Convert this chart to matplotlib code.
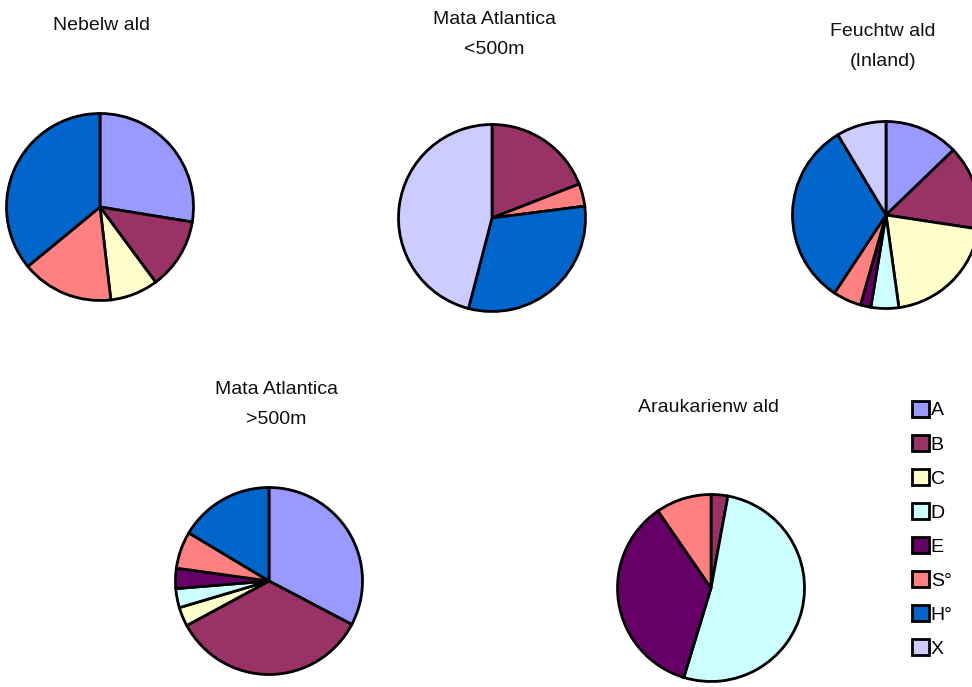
import matplotlib
matplotlib.use("Agg")
import matplotlib.pyplot as plt
from matplotlib.patches import Patch

plt.rcParams['font.family'] = ['Liberation Sans', 'DejaVu Sans']

categories = ["A", "B", "C", "D", "E", "S°", "H°", "X"]
colors = ["#9999FF", "#993366", "#FFFFCC", "#CCFFFF", "#660066", "#FF8080", "#0066CC", "#CCCCFF"]

# percentage shares per forest type (order = categories)
nebelwald = [27.6, 12.3, 8.3, 0, 0, 15.9, 36.0, 0]
mata_lt500 = [0, 19.1, 0, 0, 0, 3.9, 31.1, 46.0]
feuchtwald = [12.8, 14.6, 20.4, 4.8, 1.8, 4.9, 32.1, 8.6]
mata_gt500 = [32.7, 34.4, 3.3, 3.3, 3.5, 6.4, 16.4, 0]
araukarienwald = [0, 2.9, 0, 51.8, 35.7, 9.6, 0, 0]

titles = [["Nebelw ald"], ["Mata Atlantica", "<500m"], ["Feuchtw ald", "(Inland)"],
          ["Mata Atlantica", ">500m"], ["Araukarienw ald"]]
series = [nebelwald, mata_lt500, feuchtwald, mata_gt500, araukarienwald]

W, H = 972, 687
fig = plt.figure(figsize=(9.72, 6.87), dpi=100)
ax = fig.add_axes([0, 0, 1, 1])
ax.set_xlim(0, W)
ax.set_ylim(0, H)
ax.set_aspect('equal')
ax.axis('off')

centers = [(100, 207), (492, 218), (886, 215), (269, 581), (711, 588)]
radius = 93.5
title_pos = [[(101, 25)], [(494, 20), (494, 50)], [(883, 31), (883, 62)],
             [(276, 389), (276, 419)], [(708, 408)]]

for vals, (cx, cy), tt, tp in zip(series, centers, titles, title_pos):
    v = [x for x in vals if x > 0]
    c = [col for x, col in zip(vals, colors) if x > 0]
    ax.pie(v, colors=c, center=(cx, H - cy), radius=radius, startangle=90,
           counterclock=False, normalize=True,
           wedgeprops=dict(edgecolor='black', linewidth=2.0), frame=True)
    for line, (tx, ty) in zip(tt, tp):
        ax.text(tx, H - ty, line, ha='center', va='center', fontsize=14, color='#111111')

ax.set_xlim(0, W)
ax.set_ylim(0, H)
ax.axis('off')

handles = [Patch(facecolor=col, edgecolor='black', linewidth=2.0) for col in colors]
fig.legend(handles, categories, loc='upper left', bbox_to_anchor=(912 / W, 1 - 401 / H),
           frameon=False, fontsize=14, handlelength=0.85, handleheight=0.85,
           handletextpad=0.12, labelspacing=0.8, borderaxespad=0, borderpad=0)

fig.savefig("out.png", dpi=100)
